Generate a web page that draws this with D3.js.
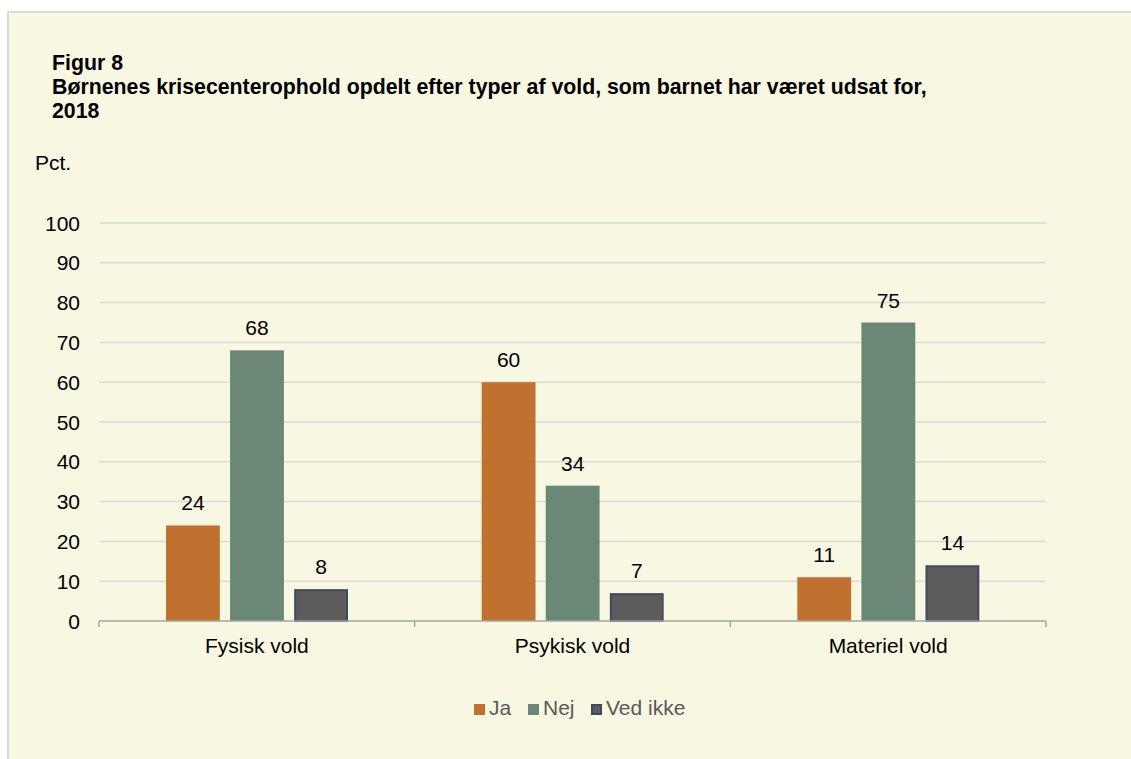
<!DOCTYPE html>
<html>
<head>
<meta charset="utf-8">
<script src="https://cdn.jsdelivr.net/npm/d3@7"></script>
<style>
  body { margin: 0; background: #ffffff; }
  svg { display: block; font-family: "Liberation Sans", Arial, sans-serif; }
</style>
</head>
<body>
<svg id="chart" width="1131" height="759"></svg>
<script>
const categories = ["Fysisk vold", "Psykisk vold", "Materiel vold"]
const seriesNames = ["Ja", "Nej", "Ved ikke"]
const jaValues = [24, 60, 11]
const nejValues = [68, 34, 75]
const vedIkkeValues = [8, 7, 14]
const yTicks = [0, 10, 20, 30, 40, 50, 60, 70, 80, 90, 100]

const width = 1131
const height = 759
const bgColor = "#f8f7e1"
const colors = { "Ja": "#c0702f", "Nej": "#6b8776", "Ved ikke": "#5d5a5b" }
const strokes = { "Ja": "none", "Nej": "none", "Ved ikke": "#3d4b5e" }
const fontSize = 21

const margin = { left: 99, right: 1046, top: 223, bottom: 621 }

const svg = d3.select("#chart")

// panel background with grey border on top and left
svg.append("rect")
  .attr("x", 7).attr("y", 11)
  .attr("width", width - 7).attr("height", height - 11)
  .attr("fill", bgColor)
svg.append("path")
  .attr("d", `M8,${height} L8,12 L${width},12`)
  .attr("fill", "none")
  .attr("stroke", "#d9d9d9")
  .attr("stroke-width", 2)

// titles
const titleLines = ["Figur 8", "Børnenes krisecenterophold opdelt efter typer af vold, som barnet har været udsat for,", "2018"]
svg.selectAll(".title")
  .data(titleLines)
  .join("text")
  .attr("class", "title")
  .attr("x", 52)
  .attr("y", (d, i) => 70 + i * 24)
  .attr("font-size", 21.3)
  .attr("font-weight", "bold")
  .attr("fill", "#000")
  .text(d => d)

svg.append("text")
  .attr("x", 35).attr("y", 170)
  .attr("font-size", fontSize)
  .attr("fill", "#000")
  .text("Pct.")

const x0 = d3.scaleBand()
  .domain(categories)
  .range([margin.left, margin.right])
  .paddingInner(0).paddingOuter(0)

const x1 = d3.scaleBand()
  .domain(seriesNames)
  .range([67, 249])
  .paddingInner(0.16)

const y = d3.scaleLinear()
  .domain([0, 100])
  .range([margin.bottom, margin.top])

// gridlines
svg.append("g")
  .selectAll("line")
  .data(yTicks.filter(t => t > 0))
  .join("line")
  .attr("x1", margin.left).attr("x2", margin.right)
  .attr("y1", d => y(d)).attr("y2", d => y(d))
  .attr("stroke", "#d9d9d9")
  .attr("stroke-width", 1.5)

// y labels
svg.append("g")
  .selectAll("text")
  .data(yTicks)
  .join("text")
  .attr("x", 80)
  .attr("y", d => y(d) + 7.5)
  .attr("text-anchor", "end")
  .attr("font-size", fontSize)
  .attr("fill", "#000")
  .text(d => d)

const rows = categories.map((c, i) => ({
  category: c,
  values: [
    { name: "Ja", value: jaValues[i] },
    { name: "Nej", value: nejValues[i] },
    { name: "Ved ikke", value: vedIkkeValues[i] }
  ]
}))

const groups = svg.append("g")
  .selectAll("g")
  .data(rows)
  .join("g")
  .attr("transform", d => `translate(${x0(d.category)},0)`)

groups.selectAll("rect")
  .data(d => d.values)
  .join("rect")
  .attr("x", d => x1(d.name) + (d.name === "Ved ikke" ? 1 : 0))
  .attr("y", d => y(d.value) + (d.name === "Ved ikke" ? 1 : 0))
  .attr("width", d => x1.bandwidth() - (d.name === "Ved ikke" ? 2 : 0))
  .attr("height", d => margin.bottom - y(d.value) - (d.name === "Ved ikke" ? 1 : 0))
  .attr("fill", d => colors[d.name])
  .attr("stroke", d => strokes[d.name])
  .attr("stroke-width", 2)

groups.selectAll("text")
  .data(d => d.values)
  .join("text")
  .attr("x", d => x1(d.name) + x1.bandwidth() / 2)
  .attr("y", d => y(d.value) - 15)
  .attr("text-anchor", "middle")
  .attr("font-size", fontSize)
  .attr("fill", "#000")
  .text(d => d.value)

// x axis
const xAxis = svg.append("g")
xAxis.append("line")
  .attr("x1", margin.left).attr("x2", margin.right)
  .attr("y1", margin.bottom).attr("y2", margin.bottom)
  .attr("stroke", "#a6a6a6")
  .attr("stroke-width", 1.5)
xAxis.selectAll(".tick")
  .data(categories.map(c => x0(c)).concat([margin.right]))
  .join("line")
  .attr("class", "tick")
  .attr("x1", d => d).attr("x2", d => d)
  .attr("y1", margin.bottom).attr("y2", margin.bottom + 6)
  .attr("stroke", "#a6a6a6")
  .attr("stroke-width", 1.5)
xAxis.selectAll("text")
  .data(categories)
  .join("text")
  .attr("x", d => x0(d) + x0.bandwidth() / 2)
  .attr("y", 653)
  .attr("text-anchor", "middle")
  .attr("font-size", fontSize)
  .attr("fill", "#000")
  .text(d => d)

// legend
const legendX = [474, 528, 591]
const legend = svg.append("g")
  .selectAll("g")
  .data(seriesNames)
  .join("g")
  .attr("transform", (d, i) => `translate(${legendX[i]},704)`)
legend.append("rect")
  .attr("x", d => d === "Ved ikke" ? 1 : 0)
  .attr("y", d => d === "Ved ikke" ? 1 : 0)
  .attr("width", d => d === "Ved ikke" ? 9 : 11)
  .attr("height", d => d === "Ved ikke" ? 9 : 11)
  .attr("fill", d => colors[d])
  .attr("stroke", d => strokes[d])
  .attr("stroke-width", 2)
legend.append("text")
  .attr("x", 15)
  .attr("y", 11)
  .attr("font-size", fontSize)
  .attr("fill", "#595959")
  .text(d => d)
</script>
</body>
</html>
